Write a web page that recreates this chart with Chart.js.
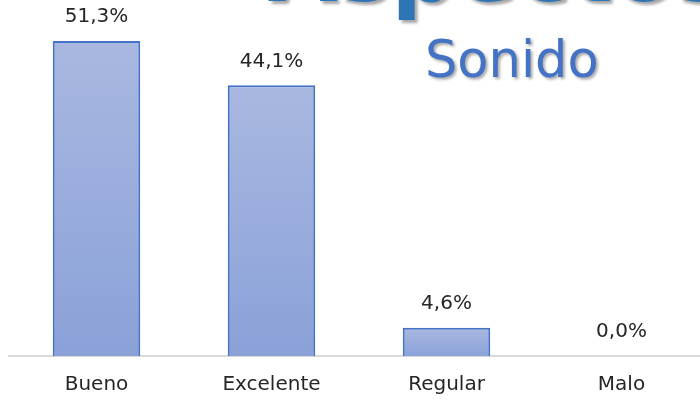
<!DOCTYPE html>
<html>
<head>
<meta charset="utf-8">
<script src="https://cdn.jsdelivr.net/npm/chart.js@4/dist/chart.umd.min.js"></script>
<style>
  html, body { margin: 0; padding: 0; background: #fff; overflow: hidden; }
  #wrap { position: relative; width: 700px; height: 404px; overflow: hidden; }
  #chart-box { position: absolute; left: 0; top: 0; width: 712px; height: 404px; }
  .heading {
    position: absolute;
    font-family: "DejaVu Sans", sans-serif;
    line-height: 1;
    white-space: nowrap;
  }
  #main-title {
    left: 268px; top: -75px;
    font-size: 90px; font-weight: bold;
    color: #2E75B6;
    text-shadow: 3px 3px 3px rgba(0, 0, 0, 0.35);
  }
  #sub-title {
    left: 425px; top: 34px;
    font-size: 51px;
    color: #4472C4;
    text-shadow: 2px 2px 3px rgba(0, 0, 0, 0.35);
  }
</style>
</head>
<body>
<div id="wrap">
  <div id="chart-box"><canvas id="chart" width="712" height="404"></canvas></div>
  <div class="heading" id="main-title">Aspectos</div>
  <div class="heading" id="sub-title">Sonido</div>
</div>
<script>
// Survey results for sound quality
const categories = ['Bueno', 'Excelente', 'Regular', 'Malo'];
const percentages = [51.3, 44.1, 4.6, 0.0];

const labelFont = { family: "'DejaVu Sans', sans-serif", size: 20 };
const textColor = '#262626';

// Light-to-darker fill from the top of each bar down to the axis
function barFill(context) {
    const chart = context.chart;
    const yScale = chart.scales.y;
    if (!chart.chartArea || !yScale) return '#A0B1DE';
    const top = yScale.getPixelForValue(context.raw);
    const bottom = yScale.getPixelForValue(0);
    if (bottom - top < 1) return '#A0B1DE';
    const g = chart.ctx.createLinearGradient(0, top, 0, bottom);
    g.addColorStop(0, '#A9B8E1');
    g.addColorStop(1, '#8AA1D8');
    return g;
}

// Percent labels above every bar
const valueLabels = {
    id: 'valueLabels',
    afterDatasetsDraw(chart) {
        const ctx = chart.ctx;
        const meta = chart.getDatasetMeta(0);
        ctx.save();
        ctx.font = `${labelFont.size}px ${labelFont.family}`;
        ctx.fillStyle = textColor;
        ctx.textAlign = 'center';
        ctx.textBaseline = 'middle';
        meta.data.forEach((bar, i) => {
            const text = percentages[i].toFixed(1).replace('.', ',') + '%';
            ctx.fillText(text, bar.x, bar.y - 24);
        });
        ctx.restore();
    }
};

new Chart(document.getElementById('chart'), {
    type: 'bar',
    data: {
        labels: categories,
        datasets: [{
            data: percentages,
            backgroundColor: barFill,
            borderColor: '#4472C4',
            borderWidth: 2,
            barPercentage: 0.5,
            categoryPercentage: 1
        }]
    },
    options: {
        responsive: false,
        animation: false,
        layout: { padding: { left: 9, right: 3, top: 0, bottom: -10 } },
        plugins: {
            legend: { display: false },
            tooltip: { enabled: false }
        },
        scales: {
            x: {
                grid: { display: false, drawTicks: false },
                border: { display: true, color: '#D9D9D9', width: 2 },
                ticks: { color: textColor, font: labelFont, padding: 17 }
            },
            y: {
                display: false,
                min: 0,
                max: 58
            }
        }
    },
    plugins: [valueLabels]
});
</script>
</body>
</html>
